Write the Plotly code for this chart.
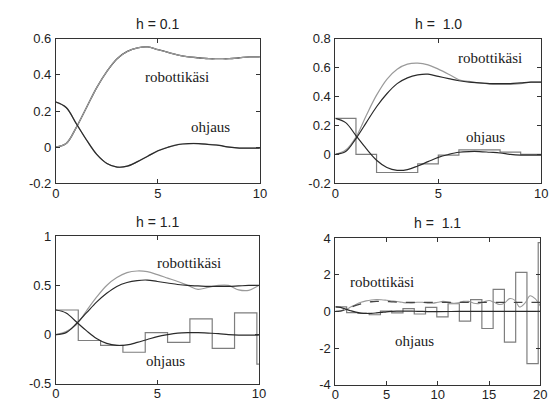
import plotly.graph_objects as go

# --- continuous-time reference responses (t = 0 ... 10, step 0.5) ---
t_c = [0, 0.5, 1, 1.5, 2, 2.5, 3, 3.5, 4, 4.5, 5, 5.5, 6, 6.5, 7, 7.5, 8, 8.5, 9, 9.5, 10]
arm_c = [0, 0.02, 0.11, 0.22, 0.33, 0.42, 0.49, 0.53, 0.55, 0.555, 0.54, 0.525, 0.51,
         0.50, 0.495, 0.49, 0.49, 0.49, 0.495, 0.50, 0.50]
ctrl_c = [0.25, 0.22, 0.13, 0.04, -0.04, -0.09, -0.11, -0.105, -0.08, -0.05, -0.02, 0.0,
          0.015, 0.02, 0.02, 0.015, 0.01, 0.0, -0.005, -0.005, -0.005]
# tail of the continuous responses for the long run (t = 12 ... 20)
t_tail = [12, 14, 16, 18, 20]
arm_tail = [0.5, 0.5, 0.5, 0.5, 0.5]
ctrl_tail = [0, 0, 0, 0, 0]

# --- sampled controller, h = 1.0 ---
t_h10 = [0, 1, 2, 3, 4, 5, 6, 7, 8, 9, 10]
u_h10 = [0.25, 0.0, -0.125, -0.125, -0.065, -0.005, 0.032, 0.032, 0.016, 0.0, 0.0]
arm_h10 = [0, 0.03, 0.12, 0.27, 0.41, 0.52, 0.59, 0.625, 0.632, 0.62, 0.59, 0.555, 0.517,
           0.505, 0.494, 0.487, 0.485, 0.484, 0.49, 0.50, 0.50]

# --- sampled controller, h = 1.1 ---
t_h11 = [0, 1.1, 2.2, 3.3, 4.4, 5.5, 6.6, 7.7, 8.8, 9.9, 11, 12.1, 13.2, 14.3, 15.4,
         16.5, 17.6, 18.7, 19.8, 20]
u_h11 = [0.25, -0.06, -0.11, -0.18, 0.02, -0.08, 0.16, -0.14, 0.22, -0.30, 0.42, -0.53,
         0.65, -0.93, 1.21, -1.67, 2.13, -2.85, 3.76, 3.76]
t_arm_h11 = [0, 0.5, 1, 1.5, 2, 2.5, 3, 3.5, 4, 4.5, 5, 5.5, 6, 6.5, 7, 7.5, 8, 8.5, 9, 9.5,
             10, 10.5, 11, 11.5, 12, 12.5, 13, 13.5, 14, 14.5, 15, 15.5, 16, 16.5, 17,
             17.5, 18, 18.5, 19, 19.5, 20]
arm_h11 = [0, 0.03, 0.10, 0.24, 0.38, 0.50, 0.58, 0.63, 0.647, 0.64, 0.61, 0.575, 0.54,
           0.50, 0.46, 0.48, 0.50, 0.50, 0.455, 0.45, 0.50, 0.55, 0.52, 0.45, 0.47, 0.55,
           0.55, 0.45, 0.43, 0.52, 0.60, 0.50, 0.38, 0.45, 0.70, 0.62, 0.24, 0.45, 0.86,
           0.70, 0.30]

titles = ["h = 0.1", "h =  1.0", "h = 1.1", "h =  1.1"]
x_ranges = [[0, 10], [0, 10], [0, 10], [0, 20]]
y_ranges = [[-0.2, 0.6], [-0.2, 0.8], [-0.5, 1.0], [-4, 4]]
x_ticks = [[0, 5, 10], [0, 5, 10], [0, 5, 10], [0, 5, 10, 15, 20]]
y_ticks = [[-0.2, 0, 0.2, 0.4, 0.6], [-0.2, 0, 0.2, 0.4, 0.6, 0.8],
           [-0.5, 0, 0.5, 1], [-4, -2, 0, 2, 4]]
y_ticktext = [["-0.2", "0", "0.2", "0.4", "0.6"], ["-0.2", "0", "0.2", "0.4", "0.6", "0.8"],
              ["-0.5", "0", "0.5", "1"], ["-4", "-2", "0", "2", "4"]]
arm_label_pos = [(5.96, 0.39), (7.5, 0.665), (6.55, 0.725), (4.6, 1.63)]
ctrl_label_pos = [(7.6, 0.113), (7.3, 0.12), (5.4, -0.268), (7.7, -1.61)]

DARK = "#2a2a2a"
GRAY = "#9a9a9a"
STAIR = "#7e7e7e"

# panel placement (paper fractions)
x_domains = [[0.0946, 0.4661], [0.6036, 0.9786], [0.0946, 0.4643], [0.6036, 0.9768]]
y_domains = [[0.5547, 0.9197], [0.5547, 0.9197], [0.0487, 0.4209], [0.0462, 0.4161]]

fig = go.Figure()


def add(trace, k):
    sfx = "" if k == 0 else str(k + 1)
    trace.update(xaxis="x" + sfx, yaxis="y" + sfx, showlegend=False, hoverinfo="skip")
    fig.add_trace(trace)


# panel 1: h = 0.1, sampled and continuous practically coincide
add(go.Scatter(x=t_c, y=arm_c, mode="lines", line=dict(color=DARK, width=1.3, shape="spline")), 0)
add(go.Scatter(x=t_c, y=arm_c, mode="lines", line=dict(color=GRAY, width=1.2, shape="spline")), 0)
add(go.Scatter(x=t_c, y=ctrl_c, mode="lines", line=dict(color=GRAY, width=1.3, shape="spline")), 0)
add(go.Scatter(x=t_c, y=ctrl_c, mode="lines", line=dict(color=DARK, width=1.2, shape="spline")), 0)

# panel 2: h = 1.0
add(go.Scatter(x=t_h10, y=u_h10, mode="lines", line=dict(color=STAIR, width=1.2, shape="hv")), 1)
add(go.Scatter(x=t_c, y=arm_h10, mode="lines", line=dict(color=GRAY, width=1.2, shape="spline")), 1)
add(go.Scatter(x=t_c, y=arm_c, mode="lines", line=dict(color=DARK, width=1.2, shape="spline")), 1)
add(go.Scatter(x=t_c, y=ctrl_c, mode="lines", line=dict(color=DARK, width=1.2, shape="spline")), 1)

# panel 3: h = 1.1, first 10 s
add(go.Scatter(x=t_h11, y=u_h11, mode="lines", line=dict(color=STAIR, width=1.2, shape="hv")), 2)
add(go.Scatter(x=t_arm_h11, y=arm_h11, mode="lines", line=dict(color=GRAY, width=1.2, shape="spline")), 2)
add(go.Scatter(x=t_c, y=arm_c, mode="lines", line=dict(color=DARK, width=1.2, shape="spline")), 2)
add(go.Scatter(x=t_c, y=ctrl_c, mode="lines", line=dict(color=DARK, width=1.2, shape="spline")), 2)

# panel 4: h = 1.1, 20 s run
add(go.Scatter(x=t_h11, y=u_h11, mode="lines", line=dict(color=STAIR, width=1.2, shape="hv")), 3)
add(go.Scatter(x=t_arm_h11, y=arm_h11, mode="lines", line=dict(color=GRAY, width=1.1, shape="spline")), 3)
add(go.Scatter(x=t_c + t_tail, y=arm_c + arm_tail, mode="lines",
               line=dict(color="#444444", width=1.3, dash="dash", shape="spline")), 3)
add(go.Scatter(x=t_c + t_tail, y=ctrl_c + ctrl_tail, mode="lines",
               line=dict(color=DARK, width=1.2, shape="spline")), 3)

axis_font = dict(family="Liberation Sans", size=13, color="#222222")
title_font = dict(family="Liberation Sans", size=14, color="#222222")
label_font = dict(family="Liberation Serif", size=15, color="#1a1a1a")

layout = dict(
    width=560, height=411,
    margin=dict(l=0, r=0, t=0, b=0),
    paper_bgcolor="white", plot_bgcolor="white",
    font=axis_font,
)
annotations = []
for k in range(4):
    sfx = "" if k == 0 else str(k + 1)
    common = dict(showline=True, linecolor="#333333", linewidth=1, mirror="ticks",
                  ticks="inside", ticklen=4, tickcolor="#333333", showgrid=False,
                  zeroline=False, tickfont=axis_font)
    layout["xaxis" + sfx] = dict(common, domain=x_domains[k], range=x_ranges[k],
                                 anchor="y" + sfx, tickvals=x_ticks[k], ticklabelstandoff=-2)
    layout["yaxis" + sfx] = dict(common, domain=y_domains[k], range=y_ranges[k],
                                 anchor="x" + sfx, tickvals=y_ticks[k], ticktext=y_ticktext[k],
                                 ticklabelstandoff=1)
    xd, yd = x_domains[k], y_domains[k]
    annotations.append(dict(text=titles[k], x=(xd[0] + xd[1]) / 2, y=yd[1] + 0.012,
                            xref="paper", yref="paper", showarrow=False,
                            xanchor="center", yanchor="bottom", font=title_font))
    ax, ay = arm_label_pos[k]
    cx, cy = ctrl_label_pos[k]
    annotations.append(dict(text="robottikäsi", x=ax, y=ay, xref="x" + sfx, yref="y" + sfx,
                            showarrow=False, font=label_font))
    annotations.append(dict(text="ohjaus", x=cx, y=cy, xref="x" + sfx, yref="y" + sfx,
                            showarrow=False, font=label_font))

layout["annotations"] = annotations
fig.update_layout(**layout)
fig.write_html("out.html")
